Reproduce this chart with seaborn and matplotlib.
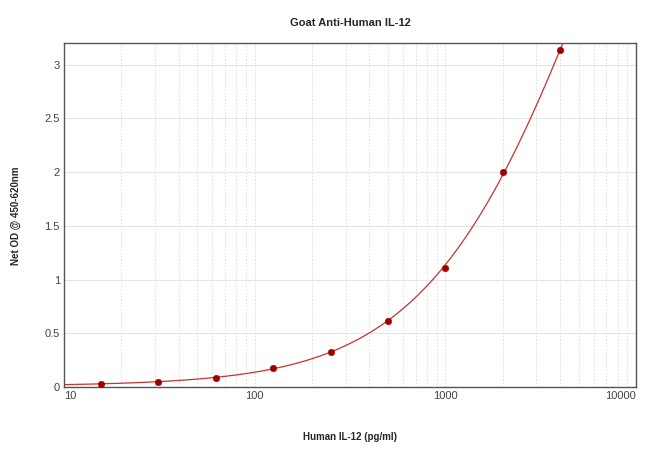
import matplotlib
matplotlib.use("Agg")
import matplotlib.pyplot as plt
import seaborn as sns
import numpy as np
import pandas as pd
from matplotlib.ticker import LogLocator, FixedLocator, NullFormatter

# standard curve data
conc = [15.6, 31.25, 62.5, 125, 250, 500, 1000, 2000, 4000]
od = [0.03, 0.05, 0.085, 0.18, 0.33, 0.61, 1.11, 2.0, 3.14]
x_ticks = [10, 100, 1000, 10000]
y_ticks = [0, 0.5, 1, 1.5, 2, 2.5, 3]

df = pd.DataFrame({"conc": conc, "od": od})

# fitted curve (cubic in log-log space)
coef = np.polyfit(np.log10(df["conc"]), np.log10(df["od"]), 3)
xs = np.logspace(1, np.log10(4400), 200)
fit = pd.DataFrame({"conc": xs, "od": 10 ** np.polyval(coef, np.log10(xs))})

sns.set_style("white")
plt.rcParams['font.family'] = ['Liberation Sans', 'DejaVu Sans']

fig = plt.figure(figsize=(6.5, 4.68), dpi=100)
ax = fig.add_axes([0.0985, 0.173, 0.88, 0.735])

sns.lineplot(data=fit, x="conc", y="od", ax=ax, color="#c83232", linewidth=0.9)
sns.scatterplot(data=df, x="conc", y="od", ax=ax, color="#a00000", s=22,
                edgecolor="#a00000", zorder=5)

ax.set_xscale("log")
ax.set_xlim(10, 10000)
ax.set_ylim(0, 3.2)
ax.xaxis.set_major_locator(FixedLocator(x_ticks))
ax.xaxis.set_minor_locator(LogLocator(base=10, subs=np.arange(2, 10)))
ax.xaxis.set_minor_formatter(NullFormatter())
ax.set_xticklabels([str(t) for t in x_ticks])
labels = ax.get_xticklabels()
labels[0].set_horizontalalignment("left")
labels[-1].set_horizontalalignment("right")
ax.set_yticks(y_ticks)
ax.set_yticklabels(["0", "0.5", "1", "1.5", "2", "2.5", "3"])

ax.grid(axis="x", which="both", color="#dadada", linestyle=(0, (2, 2)), linewidth=0.6)
ax.grid(axis="y", which="major", color="#e4e4e4", linestyle="-", linewidth=0.8)
ax.set_axisbelow(True)

for s in ax.spines.values():
    s.set_color("#555555")
    s.set_linewidth(1.0)

ax.tick_params(axis="both", which="both", length=0, labelsize=8, colors="#444444", pad=3)

ax.set_title("Goat Anti-Human IL-12", fontsize=8, fontweight="bold", pad=12)
ax.set_xlabel("Human IL-12 (pg/ml)", fontsize=7, fontweight="bold", labelpad=22)
ax.set_ylabel("")
fig.text(0.025, 0.54, "Net OD @ 450-620nm", fontsize=7, fontweight="bold",
         rotation=90, ha="center", va="center")

fig.savefig("out.png", dpi=100)
